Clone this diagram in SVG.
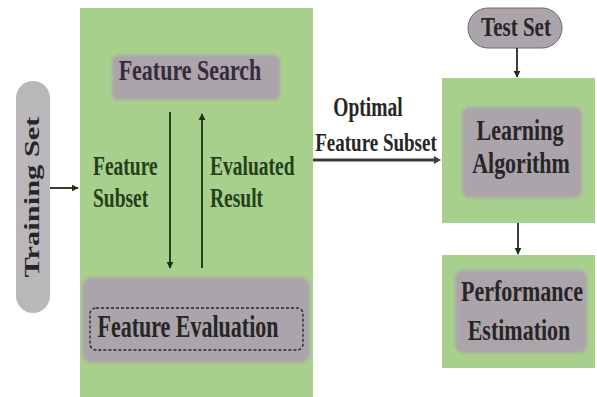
<svg xmlns="http://www.w3.org/2000/svg" width="597" height="397" viewBox="0 0 597 397">
<style>
.green{fill:#a8d08d}
.gray{fill:#aba4ab}
.pill{fill:#b9b7b9}
.t{font-family:"Liberation Serif","Times New Roman",serif;font-weight:bold;font-size:21px;fill:#262626}
.tg{font-family:"Liberation Serif","Times New Roman",serif;font-weight:bold;font-size:19.5px;fill:#24401a}
.c{text-anchor:middle}
.line{stroke:#1e2e14;stroke-width:1.8;fill:none}
.thick{stroke:#3a3a3a;stroke-width:3;fill:none}
</style>
<defs>
<marker id="ah" viewBox="0 0 10 10" refX="9" refY="5" markerWidth="4" markerHeight="4" orient="auto-start-reverse">
<path d="M0,0 L10,5 L0,10 z" fill="#1e2e14"/>
</marker>
<filter id="soft" x="-10%" y="-10%" width="120%" height="120%">
<feGaussianBlur stdDeviation="1.5"/>
</filter>
</defs>
<rect width="597" height="397" fill="#ffffff"/>

<g id="training-set">
<rect class="pill" x="16" y="81" width="34" height="232" rx="17"/>
<text class="t c" transform="translate(39,197) scale(1,1.45) rotate(-90)" x="0" y="0">Training Set</text>
</g>

<g id="selection-box">
<rect class="green" x="80" y="8" width="233" height="389"/>
</g>

<g id="feature-search">
<rect class="gray" x="112" y="55" width="168" height="45" rx="6" filter="url(#soft)"/>
<text class="t c" transform="translate(190,80) scale(1,1.35)" x="0" y="0" style="fill:#382a3e;font-size:22px">Feature Search</text>
</g>

<g id="feature-evaluation">
<rect class="gray" x="82" y="277" width="228" height="86" rx="10" filter="url(#soft)"/>
<rect x="90" y="308" width="213" height="42" rx="6" fill="none" stroke="#2a2a2a" stroke-width="1.4" stroke-dasharray="3,2"/>
<text class="t c" transform="translate(188,337) scale(1,1.4)" x="0" y="0" style="font-size:22px">Feature Evaluation</text>
</g>

<g id="test-set">
<rect class="gray" x="468" y="8" width="94" height="40" rx="20" stroke="#6a6a6a" stroke-width="1"/>
<text class="t c" transform="translate(516,36) scale(1,1.35)" x="0" y="0">Test Set</text>
</g>

<g id="learning-algorithm">
<rect class="green" x="442" y="78" width="153" height="145"/>
<rect class="gray" x="462" y="107" width="120" height="91" rx="8" filter="url(#soft)"/>
<text class="t c" transform="translate(520,140) scale(1,1.35)" x="0" y="0" style="font-size:22px">Learning</text>
<text class="t c" transform="translate(521,173) scale(1,1.35)" x="0" y="0" style="font-size:22px">Algorithm</text>
</g>

<g id="performance-estimation">
<rect class="green" x="442" y="255" width="153" height="113"/>
<rect class="gray" x="455" y="270" width="132" height="83" rx="8" filter="url(#soft)"/>
<text class="t c" transform="translate(522,301) scale(1,1.35)" x="0" y="0" style="font-size:22px">Performance</text>
<text class="t c" transform="translate(519,340) scale(1,1.35)" x="0" y="0" style="font-size:22px">Estimation</text>
</g>

<g id="connectors">
<line class="line" x1="50" y1="188" x2="78" y2="188" marker-end="url(#ah)"/>
<line class="line" x1="170" y1="112" x2="170" y2="268" marker-end="url(#ah)"/>
<line class="line" x1="202" y1="268" x2="202" y2="114" marker-end="url(#ah)"/>
<line class="thick" x1="313" y1="160" x2="438" y2="160"/>
<path d="M434,156 L441,160 L434,164 z" fill="#3a3a3a"/>
<line class="line" x1="517" y1="48" x2="517" y2="77" marker-end="url(#ah)"/>
<line class="line" x1="518" y1="223" x2="518" y2="254" marker-end="url(#ah)"/>
<text class="tg" transform="translate(93,175) scale(1,1.35)" x="0" y="0">Feature</text>
<text class="tg" transform="translate(93,207) scale(1,1.35)" x="0" y="0">Subset</text>
<text class="tg" transform="translate(210,175) scale(1,1.35)" x="0" y="0">Evaluated</text>
<text class="tg" transform="translate(210,207) scale(1,1.35)" x="0" y="0">Result</text>
<text class="t c" transform="translate(368,116) scale(1,1.35)" x="0" y="0" style="font-size:19.5px">Optimal</text>
<text class="t c" transform="translate(376,151) scale(1,1.35)" x="0" y="0" style="font-size:19px">Feature Subset</text>
</g>
</svg>
